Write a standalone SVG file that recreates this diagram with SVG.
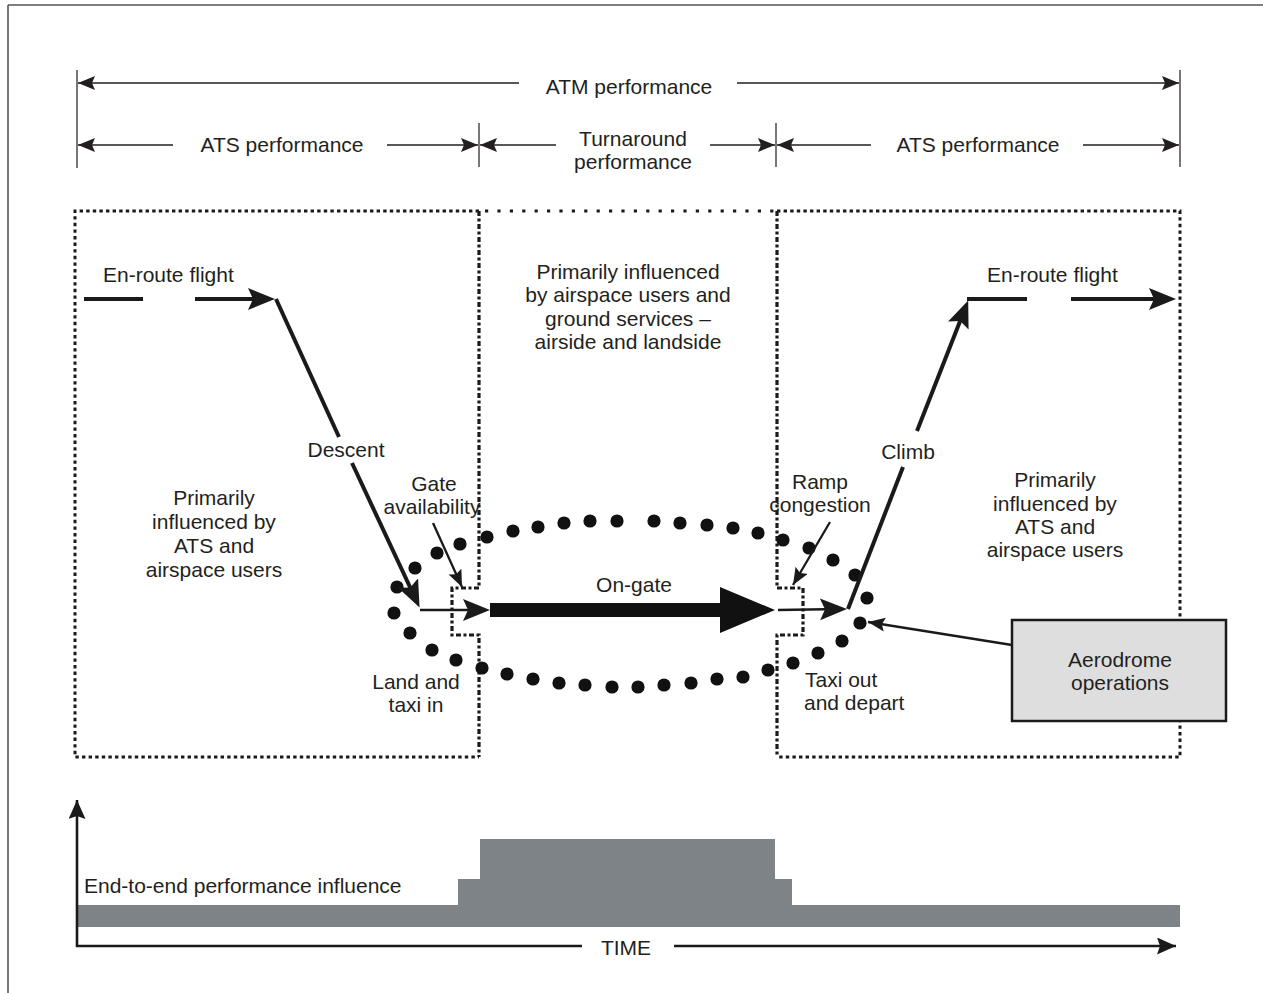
<svg xmlns="http://www.w3.org/2000/svg" width="1263" height="993" viewBox="0 0 1263 993">
<style>
text{font-family:"Liberation Sans",Arial,sans-serif;font-size:21px;fill:#231f20}
.c{text-anchor:middle}
.thin{stroke:#231f20;stroke-width:1.5;fill:none}
.tick{stroke:#555;stroke-width:1.6;fill:none}
.thick{stroke:#1a1a1a;stroke-width:4;fill:none}
.med{stroke:#1a1a1a;stroke-width:2.3;fill:none}
.axis{stroke:#1a1a1a;stroke-width:2.6;fill:none}
.fine{stroke:#1a1a1a;stroke-width:3;fill:none;stroke-dasharray:3.4 3.2}
.sparse{stroke:#1a1a1a;stroke-width:3.2;fill:none;stroke-dasharray:3.2 9.2}
.shared{stroke:#1a1a1a;stroke-width:3.2;fill:none;stroke-dasharray:5 2.5 3 2.5}
.dot{fill:#111}
</style>
<defs>
<marker id="ht" markerUnits="userSpaceOnUse" markerWidth="18" markerHeight="15" refX="17" refY="7" orient="auto-start-reverse"><path d="M0,0 L17,7 L0,14 L3,7z" fill="#231f20"/></marker>
<marker id="hb" markerUnits="userSpaceOnUse" markerWidth="28" markerHeight="23" refX="21" refY="11" orient="auto"><path d="M0,0 L27,11 L0,22 L5,11z" fill="#1a1a1a"/></marker>
<marker id="hm" markerUnits="userSpaceOnUse" markerWidth="18" markerHeight="15" refX="17" refY="7" orient="auto"><path d="M0,0 L17,7 L0,14 L3,7z" fill="#1a1a1a"/></marker>
<marker id="ha" markerUnits="userSpaceOnUse" markerWidth="20" markerHeight="18" refX="19" refY="8.5" orient="auto"><path d="M0,0 L19,8.5 L0,17 L3,8.5z" fill="#1a1a1a"/></marker>
</defs>

<g id="frame">
<line x1="8" y1="5" x2="1263" y2="5" stroke="#555" stroke-width="1.6"/>
<line x1="8" y1="5" x2="8" y2="993" stroke="#555" stroke-width="1.6"/>
</g>

<g id="header">
<line class="tick" x1="77" y1="70" x2="77" y2="168"/>
<line class="tick" x1="479" y1="123" x2="479" y2="167"/>
<line class="tick" x1="776" y1="123" x2="776" y2="167"/>
<line class="tick" x1="1180" y1="70" x2="1180" y2="167"/>
<g id="atm-performance">
<line class="thin" x1="78" y1="83" x2="519" y2="83" marker-start="url(#ht)"/>
<text class="c" x="629" y="94">ATM performance</text>
<line class="thin" x1="737" y1="83" x2="1179" y2="83" marker-end="url(#ht)"/>
</g>
<g id="ats-performance-left">
<line class="thin" x1="78" y1="145" x2="173" y2="145" marker-start="url(#ht)"/>
<text class="c" x="282" y="152">ATS performance</text>
<line class="thin" x1="387" y1="145" x2="478" y2="145" marker-end="url(#ht)"/>
</g>
<g id="turnaround-performance">
<line class="thin" x1="480" y1="145" x2="556" y2="145" marker-start="url(#ht)"/>
<text class="c" x="633" y="146">Turnaround</text>
<text class="c" x="633" y="169">performance</text>
<line class="thin" x1="710" y1="145" x2="775" y2="145" marker-end="url(#ht)"/>
</g>
<g id="ats-performance-right">
<line class="thin" x1="777" y1="145" x2="871" y2="145" marker-start="url(#ht)"/>
<text class="c" x="978" y="152">ATS performance</text>
<line class="thin" x1="1083" y1="145" x2="1179" y2="145" marker-end="url(#ht)"/>
</g>
</g>

<g id="zones">
<path class="fine" d="M479,211 H75 V757 H479"/>
<path class="fine" d="M777,211 H1180 V757 H777"/>
<path class="sparse" d="M485,211 H777"/>
<path class="shared" d="M479,211 V588 H452 V635 H479 V757"/>
<path class="shared" d="M777,211 V588 H803 V635 H777 V757"/>
</g>

<g id="zone-left-text">
<text class="c" x="214" y="505">Primarily</text>
<text class="c" x="214" y="529">influenced by</text>
<text class="c" x="214" y="553">ATS and</text>
<text class="c" x="214" y="577">airspace users</text>
</g>
<g id="zone-middle-text">
<text class="c" x="628" y="279">Primarily influenced</text>
<text class="c" x="628" y="302">by airspace users and</text>
<text class="c" x="628" y="326">ground services –</text>
<text class="c" x="628" y="349">airside and landside</text>
</g>
<g id="zone-right-text">
<text class="c" x="1055" y="487">Primarily</text>
<text class="c" x="1055" y="511">influenced by</text>
<text class="c" x="1055" y="534">ATS and</text>
<text class="c" x="1055" y="557">airspace users</text>
</g>

<g id="ellipse">
<circle class="dot" cx="460" cy="544" r="6.6"/>
<circle class="dot" cx="487" cy="537" r="6.6"/>
<circle class="dot" cx="513" cy="531" r="6.6"/>
<circle class="dot" cx="538" cy="527" r="6.6"/>
<circle class="dot" cx="564" cy="523" r="6.6"/>
<circle class="dot" cx="590" cy="521" r="6.6"/>
<circle class="dot" cx="617" cy="521" r="6.6"/>
<circle class="dot" cx="654" cy="521" r="6.6"/>
<circle class="dot" cx="680" cy="523" r="6.6"/>
<circle class="dot" cx="707" cy="525" r="6.6"/>
<circle class="dot" cx="733" cy="528" r="6.6"/>
<circle class="dot" cx="758" cy="533" r="6.6"/>
<circle class="dot" cx="783" cy="540" r="6.6"/>
<circle class="dot" cx="809" cy="548" r="6.6"/>
<circle class="dot" cx="833" cy="560" r="6.6"/>
<circle class="dot" cx="855" cy="575" r="6.6"/>
<circle class="dot" cx="867" cy="598" r="6.6"/>
<circle class="dot" cx="860" cy="623" r="6.6"/>
<circle class="dot" cx="842" cy="641" r="6.6"/>
<circle class="dot" cx="818" cy="653" r="6.6"/>
<circle class="dot" cx="793" cy="663" r="6.6"/>
<circle class="dot" cx="768" cy="670" r="6.6"/>
<circle class="dot" cx="743" cy="677" r="6.6"/>
<circle class="dot" cx="717" cy="679" r="6.6"/>
<circle class="dot" cx="691" cy="683" r="6.6"/>
<circle class="dot" cx="664" cy="685" r="6.6"/>
<circle class="dot" cx="638" cy="687" r="6.6"/>
<circle class="dot" cx="612" cy="687" r="6.6"/>
<circle class="dot" cx="585" cy="685" r="6.6"/>
<circle class="dot" cx="559" cy="683" r="6.6"/>
<circle class="dot" cx="533" cy="679" r="6.6"/>
<circle class="dot" cx="507" cy="674" r="6.6"/>
<circle class="dot" cx="482" cy="668" r="6.6"/>
<circle class="dot" cx="456" cy="660" r="6.6"/>
<circle class="dot" cx="432" cy="650" r="6.6"/>
<circle class="dot" cx="410" cy="633" r="6.6"/>
<circle class="dot" cx="394" cy="613" r="6.6"/>
<circle class="dot" cx="397" cy="587" r="6.6"/>
<circle class="dot" cx="415" cy="568" r="6.6"/>
<circle class="dot" cx="437" cy="553" r="6.6"/>
</g>

<g id="connectors">
<line class="thick" x1="84" y1="299" x2="143" y2="299"/>
<line class="thick" x1="195" y1="299" x2="269" y2="299" marker-end="url(#hb)"/>
<line class="thick" x1="276" y1="299" x2="339" y2="437"/>
<line class="thick" x1="352" y1="463" x2="417" y2="602" marker-end="url(#hb)"/>
<line class="med" x1="420" y1="610" x2="484" y2="610" marker-end="url(#hb)"/>
<path d="M490,603 H720 V587 L775,610 L720,633 V617 H490z" fill="#111"/>
<line class="med" x1="778" y1="610" x2="841" y2="609" marker-end="url(#hb)"/>
<line class="thick" x1="848" y1="609" x2="903" y2="467"/>
<line class="thick" x1="917" y1="431" x2="966" y2="306" marker-end="url(#hb)"/>
<line class="thick" x1="967" y1="299" x2="1027" y2="299"/>
<line class="thick" x1="1071" y1="299" x2="1170" y2="299" marker-end="url(#hb)"/>
<line class="med" x1="433" y1="523" x2="462" y2="587" marker-end="url(#hm)"/>
<line class="med" x1="830" y1="522" x2="793" y2="585" marker-end="url(#hm)"/>
<line class="med" x1="1012" y1="645" x2="868" y2="622" marker-end="url(#hm)"/>
</g>

<g id="flight-labels">
<text x="103" y="282">En-route flight</text>
<text x="987" y="282">En-route flight</text>
<text class="c" x="346" y="457">Descent</text>
<text class="c" x="908" y="459">Climb</text>
<text class="c" x="434" y="491">Gate</text>
<text class="c" x="432" y="514">availability</text>
<text class="c" x="820" y="489">Ramp</text>
<text class="c" x="820" y="512">congestion</text>
<text class="c" x="634" y="592">On-gate</text>
<text class="c" x="416" y="689">Land and</text>
<text class="c" x="416" y="712">taxi in</text>
<text x="805" y="687">Taxi out</text>
<text x="804" y="710">and depart</text>
</g>

<g id="aerodrome-operations">
<rect x="1012" y="620" width="214" height="101" fill="#dedede" stroke="#1a1a1a" stroke-width="2.5"/>
<text class="c" x="1120" y="667">Aerodrome</text>
<text class="c" x="1120" y="690">operations</text>
</g>

<g id="influence-chart">
<polygon points="78,905 458,905 458,879 480,879 480,839 775,839 775,879 792,879 792,905 1180,905 1180,927 78,927" fill="#7d8386"/>
<text x="84" y="893">End-to-end performance influence</text>
<line class="axis" x1="77" y1="947" x2="77" y2="800" marker-end="url(#ha)"/>
<line class="axis" x1="76" y1="946" x2="582" y2="946"/>
<text class="c" x="626" y="955">TIME</text>
<line class="axis" x1="674" y1="946" x2="1176" y2="946" marker-end="url(#ha)"/>
</g>
</svg>
